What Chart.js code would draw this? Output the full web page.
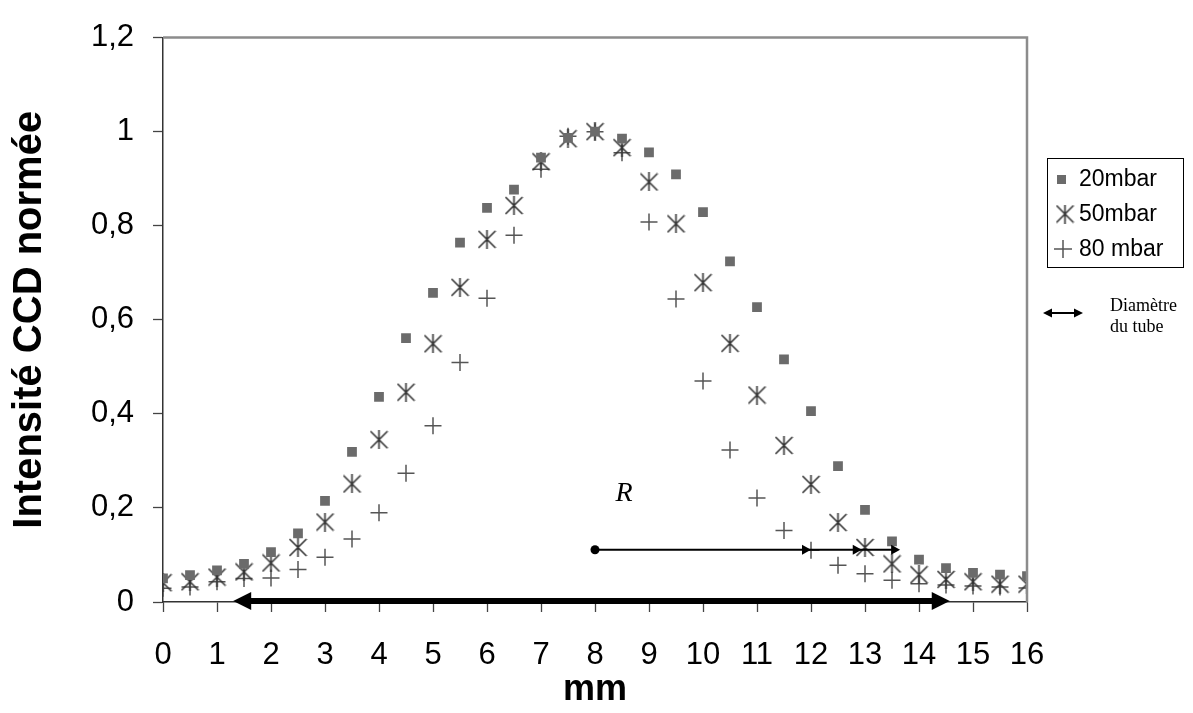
<!DOCTYPE html>
<html>
<head>
<meta charset="utf-8">
<script src="https://cdn.jsdelivr.net/npm/chart.js@4/dist/chart.umd.min.js"></script>
<style>
  body { margin: 0; background: #fff; }
  #wrap { width: 1193px; height: 713px; }
</style>
</head>
<body>
<div id="wrap"><canvas id="profile" width="1193" height="713"></canvas></div>
<script>
// position along the tube (mm)
const positions = [0, 0.5, 1, 1.5, 2, 2.5, 3, 3.5, 4, 4.5, 5, 5.5, 6, 6.5, 7, 7.5, 8,
  8.5, 9, 9.5, 10, 10.5, 11, 11.5, 12, 12.5, 13, 13.5, 14, 14.5, 15, 15.5, 16];

const seriesNames = ['20mbar', '50mbar', '80 mbar'];

const intensity20 = [0.05, 0.057, 0.067, 0.081, 0.106, 0.146, 0.215, 0.319, 0.436, 0.561, 0.657,
  0.764, 0.838, 0.877, 0.945, 0.987, 1.0, 0.985, 0.956, 0.909, 0.829, 0.724, 0.627, 0.516,
  0.406, 0.289, 0.196, 0.129, 0.09, 0.072, 0.062, 0.058, 0.055];

const intensity50 = [0.041, 0.043, 0.053, 0.064, 0.083, 0.116, 0.17, 0.251, 0.345, 0.446, 0.549,
  0.669, 0.771, 0.843, 0.936, 0.985, 1.0, 0.966, 0.893, 0.804, 0.679, 0.55, 0.44, 0.333,
  0.25, 0.169, 0.116, 0.081, 0.058, 0.048, 0.043, 0.038, 0.038];

const intensity80 = [0.029, 0.032, 0.043, 0.05, 0.051, 0.069, 0.095, 0.134, 0.19, 0.274, 0.375,
  0.509, 0.646, 0.78, 0.92, 0.99, 1.0, 0.955, 0.808, 0.644, 0.47, 0.323, 0.221, 0.152,
  0.11, 0.078, 0.06, 0.046, 0.039, 0.036, 0.034, 0.032, 0.03];

const SANS = '"Liberation Sans", Arial, sans-serif';
const SERIF = '"Liberation Serif", "Times New Roman", serif';

// excel style star marker: an X with a vertical bar
function makeStar(size, color) {
  const c = document.createElement('canvas');
  c.width = size; c.height = size;
  const g = c.getContext('2d');
  g.strokeStyle = color;
  g.lineWidth = 1.6;
  g.beginPath();
  g.moveTo(1, 1); g.lineTo(size - 1, size - 1);
  g.moveTo(size - 1, 1); g.lineTo(1, size - 1);
  g.moveTo(size / 2, 0); g.lineTo(size / 2, size);
  g.stroke();
  return c;
}
const starMark = makeStar(19, '#333');

function toPoints(values) {
  return positions.map((p, i) => ({ x: p, y: values[i] }));
}

function arrowHead(ctx, tipX, tipY, dir, len, half) {
  ctx.beginPath();
  ctx.moveTo(tipX, tipY);
  ctx.lineTo(tipX - dir * len, tipY - half);
  ctx.lineTo(tipX - dir * len, tipY + half);
  ctx.closePath();
  ctx.fill();
}

// frame, arrows, R label and the legend box
const annotations = {
  id: 'annotations',
  afterDatasetsDraw(chart) {
    const { ctx, chartArea: a, scales: { x, y } } = chart;
    ctx.save();

    // gray top / right frame
    ctx.strokeStyle = '#8c8c8c';
    ctx.lineWidth = 2.5;
    ctx.beginPath();
    ctx.moveTo(a.left, a.top);
    ctx.lineTo(a.right, a.top);
    ctx.lineTo(a.right, a.bottom);
    ctx.stroke();

    ctx.fillStyle = '#000';
    ctx.strokeStyle = '#000';

    // tube diameter: thick double arrow along the baseline
    const by = y.getPixelForValue(0) - 1;
    const bx1 = x.getPixelForValue(1.3), bx2 = x.getPixelForValue(14.57);
    ctx.lineWidth = 6;
    ctx.beginPath();
    ctx.moveTo(bx1 + 16, by);
    ctx.lineTo(bx2 - 16, by);
    ctx.stroke();
    arrowHead(ctx, bx1, by, -1, 18, 9);
    arrowHead(ctx, bx2, by, 1, 18, 9);

    // radius arrow
    const ry = y.getPixelForValue(0.111);
    const rx0 = x.getPixelForValue(8);
    const rx1 = x.getPixelForValue(13.65);
    ctx.lineWidth = 2;
    ctx.beginPath();
    ctx.moveTo(rx0, ry);
    ctx.lineTo(rx1 - 6, ry);
    ctx.stroke();
    ctx.beginPath();
    ctx.arc(rx0, ry, 4.5, 0, Math.PI * 2);
    ctx.fill();
    [12, 12.94, 13.65].forEach(v => arrowHead(ctx, x.getPixelForValue(v), ry, 1, 9, 5));

    ctx.font = 'italic 28px ' + SERIF;
    ctx.textAlign = 'center';
    ctx.textBaseline = 'middle';
    ctx.fillText('R', x.getPixelForValue(8.54), y.getPixelForValue(0.231));

    // legend
    ctx.lineWidth = 1;
    ctx.strokeRect(1047.5, 158.5, 136, 109);
    ctx.font = '23px ' + SANS;
    ctx.textAlign = 'left';
    ctx.textBaseline = 'middle';
    const rows = [179, 214, 249];
    ctx.fillStyle = '#6b6b6b';
    ctx.fillRect(1057, 175, 9, 9);
    ctx.drawImage(starMark, 1065 - 9.5, rows[1] - 9.5);
    ctx.strokeStyle = '#555';
    ctx.lineWidth = 1.5;
    ctx.beginPath();
    ctx.moveTo(1054, rows[2]); ctx.lineTo(1072, rows[2]);
    ctx.moveTo(1063, rows[2] - 9); ctx.lineTo(1063, rows[2] + 9);
    ctx.stroke();
    ctx.fillStyle = '#000';
    seriesNames.forEach((n, i) => ctx.fillText(n, 1079, rows[i] + 1));

    // "Diamètre du tube" key
    ctx.strokeStyle = '#000';
    ctx.lineWidth = 2;
    ctx.beginPath();
    ctx.moveTo(1050, 313); ctx.lineTo(1076, 313);
    ctx.stroke();
    arrowHead(ctx, 1043, 313, -1, 9, 4.5);
    arrowHead(ctx, 1083, 313, 1, 9, 4.5);
    ctx.font = '18px ' + SERIF;
    ctx.textBaseline = 'alphabetic';
    ctx.fillText('Diamètre', 1110, 311);
    ctx.fillText('du tube', 1110, 332);

    ctx.restore();
  }
};

const profileChart = new Chart(document.getElementById('profile'), {
  type: 'scatter',
  plugins: [annotations],
  data: {
    datasets: [
      {
        label: seriesNames[0],
        data: toPoints(intensity20),
        pointStyle: 'rect',
        pointRadius: 6.9,
        backgroundColor: '#6b6b6b',
        borderColor: '#6b6b6b',
        borderWidth: 0
      },
      {
        label: seriesNames[1],
        data: toPoints(intensity50),
        pointStyle: starMark,
        pointRadius: 9
      },
      {
        label: seriesNames[2],
        data: toPoints(intensity80),
        pointStyle: 'cross',
        pointRadius: 8.5,
        borderColor: '#555',
        borderWidth: 1.5
      }
    ]
  },
  options: {
    responsive: false,
    animation: false,
    layout: { padding: { left: 0, right: 166, top: 31, bottom: 0 } },
    plugins: {
      legend: { display: false },
      tooltip: { enabled: false }
    },
    scales: {
      x: {
        type: 'linear',
        min: 0,
        max: 16,
        afterFit: s => { s.height = 111; },
        ticks: {
          stepSize: 1,
          color: '#000',
          padding: 25,
          font: { family: SANS, size: 31 }
        },
        grid: { drawOnChartArea: false, tickLength: 10, color: '#444', tickWidth: 1.3 },
        border: { color: '#333', width: 1.5 },
        title: {
          display: true,
          text: 'mm',
          color: '#000',
          padding: { top: 0, bottom: 1 },
          font: { family: SANS, size: 36, weight: 'bold', lineHeight: 1.2 }
        }
      },
      y: {
        min: 0,
        max: 1.2,
        afterFit: s => { s.width = 163; },
        ticks: {
          stepSize: 0.2,
          color: '#000',
          padding: 19,
          font: { family: SANS, size: 31 },
          callback: v => String(Math.round(v * 10) / 10).replace('.', ',')
        },
        grid: { drawOnChartArea: false, tickLength: 10, color: '#444', tickWidth: 1.3 },
        border: { color: '#333', width: 1.5 },
        title: {
          display: true,
          text: 'Intensité CCD normée',
          color: '#000',
          padding: { top: 6, bottom: 0 },
          font: { family: SANS, size: 40, weight: 'bold', lineHeight: 1.2 }
        }
      }
    }
  }
});
</script>
</body>
</html>
